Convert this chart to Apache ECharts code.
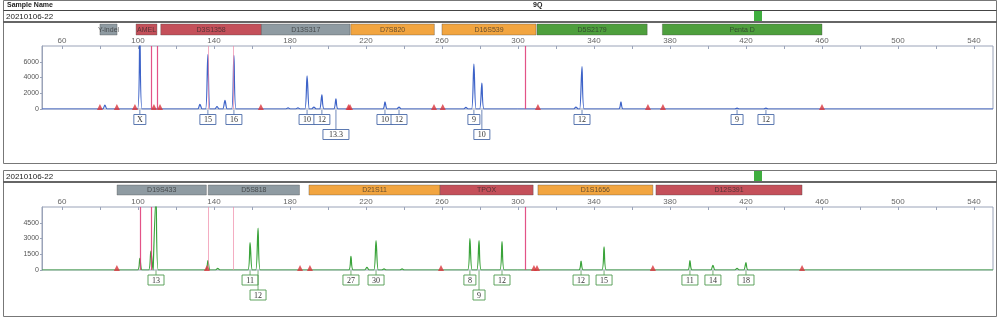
<!DOCTYPE html>
<html><head><meta charset="utf-8">
<script src="https://cdn.jsdelivr.net/npm/echarts@6/dist/echarts.min.js"></script>
<style>html,body{margin:0;padding:0;background:#fff}#c{width:1000px;height:321px}</style>
</head><body><div id="c"></div>
<script>
// ---------- DATA ----------
const xMin = 49.5, xMax = 550;
const tickLabels = [60,100,140,180,220,260,300,340,380,420,460,500,540];
const minorTicks = [60,80,100,120,140,160,180,200,220,240,260,280,300,320,340,360,380,400,420,440,460,480,500,520,540];
const topYTicks = [0,2000,4000,6000];
const botYTicks = [0,1500,3000,4500];

// top panel (blue dye)
const topPeakBp     = [82.6,101,132.6,136.8,141.6,145.8,150.5,179,184.2,189,192.6,196.8,204.2,230,237.4,272.6,276.8,281,330.5,333.7,354.2,415.3,430.5];
const topPeakHeight = [500,9500,600,6900,300,1100,6800,150,150,4200,250,1800,1300,900,250,200,5700,3300,250,5400,900,100,100];
const topAlleleBp   = [101,136.8,150.5,189,196.8,204.2,230,237.4,276.8,281,333.7,415.3,430.5];
const topAlleleText = ['X','15','16','10','12','13.3','10','12','9','10','12','9','12'];
const topAlleleRow  = [0,0,0,0,0,1,0,0,0,1,0,0,0];
const topLocusName  = ['Y-indel','AMEL','D3S1358','D13S317','D7S820','D16S539','D5S2179','Penta D'];
const topLocusStart = [80,99,112,165,212,260,310,376];
const topLocusEnd   = [89,110,165,211.6,256,309.5,368,460];
const topLocusColor = ['#8f9ba2','#c4505a','#c4505a','#8f9ba2','#f2a540','#f2a540','#4e9f3d','#4e9f3d'];
const topSizeStdBp  = [80,88.9,98.4,108.4,111.6,164.7,210.8,211.6,255.8,260.4,310.5,368.4,376.3,460];
const topPinkBp     = [106.8,110,303.7];
const topPinkFaintBp= [136.8,150];

// bottom panel (green dye)
const botPeakBp     = [101,106.8,109.5,136.8,142,159,163.2,212.1,220.5,225.3,229.5,239,274.7,279.5,291.6,333.2,345.3,390.5,402.6,415.3,420];
const botPeakHeight = [1100,1800,7000,900,150,2600,4000,1300,250,2800,100,100,3000,2800,2700,850,2200,900,450,150,700];
const botAlleleBp   = [109.5,159,163.2,212.1,225.3,274.7,279.5,291.6,333.2,345.3,390.5,402.6,420];
const botAlleleText = ['13','11','12','27','30','8','9','12','12','15','11','14','18'];
const botAlleleRow  = [0,0,1,0,0,0,1,0,0,0,0,0,0];
const botLocusName  = ['D19S433','D5S818','D21S11','TPOX','D1S1656','D12S391'];
const botLocusStart = [89,137,190,259,310.5,372.6];
const botLocusEnd   = [136,185,259,308,371,449.5];
const botLocusColor = ['#8f9ba2','#8f9ba2','#f2a540','#c4505a','#f2a540','#c4505a'];
const botSizeStdBp  = [88.9,136.3,185.3,190.5,259.5,308.4,310,371,449.5];
const botPinkBp     = [101,106.8,303.7];
const botPinkFaintBp= [136.8,150];

// ---------- BUILD ----------
function traceData(bp, h){
  const d = [[xMin,0]];
  bp.forEach((p,i)=>{ d.push([p-1.2,0]); d.push([p,h[i]]); d.push([p+1.2,0]); });
  d.push([xMax,0]);
  return d;
}
function locusData(s,e){ return s.map((v,i)=>[v,e[i]]); }
function alleleData(bp,r){ return bp.map((b,i)=>[b, r[i]+0.5]); }

const L = 42, R = 7;
const grids = [
  {left:L,right:R,top:46,height:63,show:true,borderColor:'#9aa3b8',borderWidth:1},
  {left:L,right:R,top:24,height:11},
  {left:L,right:R,top:112,height:30},
  {left:L,right:R,top:207,height:63,show:true,borderColor:'#9aa3b8',borderWidth:1},
  {left:L,right:R,top:185,height:10},
  {left:L,right:R,top:272.5,height:30}
];
function xAx(i, visible){
  return {type:'value',gridIndex:i,min:xMin,max:xMax,position:'top',
    axisLine:{show:false,onZero:false},splitLine:{show:false},
    axisTick:{show:visible,inside:true,length:3,customValues:minorTicks,lineStyle:{color:'#9aa3b8'}},
    axisLabel:{show:visible,customValues:tickLabels,fontSize:8,color:'#666',margin:1,fontFamily:'Liberation Sans'}};
}
function yPlot(i,max,ticks){
  return {type:'value',gridIndex:i,min:0,max:max,
    axisLine:{show:true,lineStyle:{color:'#9aa3b8'}},splitLine:{show:false},
    axisTick:{show:true,length:2,customValues:ticks,lineStyle:{color:'#9aa3b8'}},
    axisLabel:{customValues:ticks,fontSize:7,color:'#555',margin:3,fontFamily:'Liberation Sans',formatter:v=>String(v)}};
}
function yHidden(i,max,inv){ return {type:'value',gridIndex:i,min:0,max:max,inverse:!!inv,show:false}; }

function barRender(names, colors){
  return function(params, api){
    const s = api.coord([api.value(0),0.5]), e = api.coord([api.value(1),0.5]);
    const cs = params.coordSys;
    const i = params.dataIndex;
    return {type:'group',children:[
      {type:'rect',shape:{x:s[0],y:cs.y,width:e[0]-s[0],height:cs.height},
        style:{fill:colors[i],stroke:'rgba(60,60,60,0.55)',lineWidth:0.6}},
      {type:'text',style:{text:names[i],x:(s[0]+e[0])/2,y:cs.y+cs.height/2+0.5,align:'center',verticalAlign:'middle',
        fontSize:7,fill:'rgba(40,40,40,0.7)',fontFamily:'Liberation Sans'}}
    ]};
  };
}
function labelRender(texts, color){
  return function(params, api){
    const t = texts[params.dataIndex];
    const c = api.coord([api.value(0), api.value(1)]);
    const cs = params.coordSys;
    const w = Math.max(12, t.length*5+6), h = 10;
    return {type:'group',children:[
      {type:'line',shape:{x1:c[0],y1:cs.y-2,x2:c[0],y2:c[1]-h/2},style:{stroke:color,lineWidth:0.8}},
      {type:'rect',shape:{x:c[0]-w/2,y:c[1]-h/2,width:w,height:h},style:{fill:'#fff',stroke:color,lineWidth:0.9}},
      {type:'text',style:{text:t,x:c[0],y:c[1]+0.5,align:'center',verticalAlign:'middle',fontSize:8,
        fill:'#333',fontFamily:'Liberation Serif'}}
    ]};
  };
}
function pinkLines(strong, faint){
  return {silent:true,symbol:'none',label:{show:false},animation:false,
    data:[...strong.map(v=>({xAxis:v,lineStyle:{color:'#e0407a',width:1.2,opacity:0.9,type:'solid'}})),
          ...faint.map(v=>({xAxis:v,lineStyle:{color:'#f08aa8',width:1,opacity:0.7,type:'solid'}}))]};
}
function tri(i, arr){
  return {type:'scatter',xAxisIndex:i,yAxisIndex:i,symbol:'triangle',symbolSize:[6,6],symbolOffset:[0,-2],
    itemStyle:{color:'#d9333a'},silent:true,z:5,data:arr.map(v=>[v,0])};
}

const chart = echarts.init(document.getElementById('c'), null, {renderer:'canvas'});
chart.setOption({
  animation:false,
  backgroundColor:'#fff',
  grid:grids,
  xAxis:[xAx(0,true),xAx(1,false),xAx(2,false),xAx(3,true),xAx(4,false),xAx(5,false)],
  yAxis:[yPlot(0,8000,topYTicks),yHidden(1,1),yHidden(2,2,true),yPlot(3,6000,botYTicks),yHidden(4,1),yHidden(5,2,true)],
  graphic:[
    {type:'rect',shape:{x:3.5,y:0.5,width:993,height:163},style:{fill:'none',stroke:'#777',lineWidth:1},silent:true},
    {type:'line',shape:{x1:3.5,y1:10.5,x2:996.5,y2:10.5},style:{stroke:'#444',lineWidth:1}},
    {type:'line',shape:{x1:3.5,y1:22,x2:996.5,y2:22},style:{stroke:'#333',lineWidth:1.5}},
    {type:'text',style:{text:'Sample Name',x:7,y:5.5,verticalAlign:'middle',fontSize:7,fontWeight:'bold',fill:'#222',fontFamily:'Liberation Sans'}},
    {type:'text',style:{text:'9Q',x:533,y:5.5,verticalAlign:'middle',fontSize:7,fontWeight:'bold',fill:'#222',fontFamily:'Liberation Sans'}},
    {type:'text',style:{text:'20210106-22',x:6,y:16.5,verticalAlign:'middle',fontSize:8,fill:'#222',fontFamily:'Liberation Sans'}},
    {type:'rect',shape:{x:754,y:11,width:8,height:10},style:{fill:'#3fae3f'}},
    {type:'rect',shape:{x:3.5,y:170.5,width:993,height:146},style:{fill:'none',stroke:'#777',lineWidth:1},silent:true},
    {type:'line',shape:{x1:3.5,y1:182,x2:996.5,y2:182},style:{stroke:'#333',lineWidth:1.5}},
    {type:'text',style:{text:'20210106-22',x:6,y:176.5,verticalAlign:'middle',fontSize:8,fill:'#222',fontFamily:'Liberation Sans'}},
    {type:'rect',shape:{x:754,y:171,width:8,height:10},style:{fill:'#3fae3f'}}
  ],
  series:[
    {type:'line',xAxisIndex:0,yAxisIndex:0,data:traceData(topPeakBp,topPeakHeight),symbol:'none',smooth:0.3,
      lineStyle:{color:'#3d63c8',width:1.2},clip:true,markLine:pinkLines(topPinkBp,topPinkFaintBp),z:3},
    tri(0, topSizeStdBp),
    {type:'custom',xAxisIndex:1,yAxisIndex:1,renderItem:barRender(topLocusName,topLocusColor),data:locusData(topLocusStart,topLocusEnd),
      encode:{x:[0,1]}},
    {type:'custom',xAxisIndex:2,yAxisIndex:2,renderItem:labelRender(topAlleleText,'#4a6aa8'),data:alleleData(topAlleleBp,topAlleleRow),
      encode:{x:0,y:1},clip:false},
    {type:'line',xAxisIndex:3,yAxisIndex:3,data:traceData(botPeakBp,botPeakHeight),symbol:'none',smooth:0.3,
      lineStyle:{color:'#3aa33a',width:1.2},clip:true,markLine:pinkLines(botPinkBp,botPinkFaintBp),z:3},
    tri(3, botSizeStdBp),
    {type:'custom',xAxisIndex:4,yAxisIndex:4,renderItem:barRender(botLocusName,botLocusColor),data:locusData(botLocusStart,botLocusEnd),
      encode:{x:[0,1]}},
    {type:'custom',xAxisIndex:5,yAxisIndex:5,renderItem:labelRender(botAlleleText,'#4f9a4f'),data:alleleData(botAlleleBp,botAlleleRow),
      encode:{x:0,y:1},clip:false}
  ]
});
</script></body></html>
